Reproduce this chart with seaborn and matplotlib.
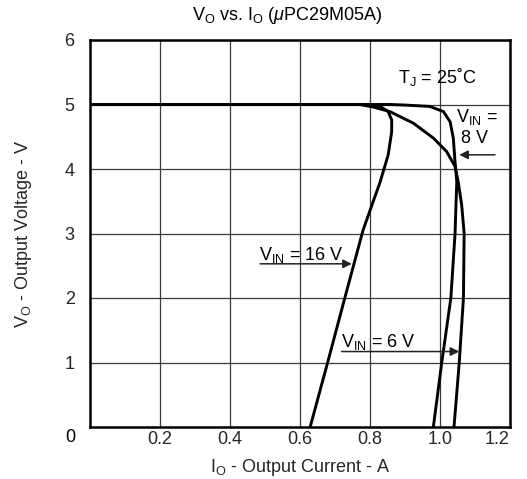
import matplotlib
matplotlib.use("Agg")
import matplotlib.pyplot as plt
import numpy as np
import pandas as pd
import seaborn as sns

# Vo vs Io curves (A, V)
vin_labels = ["16 V", "8 V", "6 V"]

io_16v = [0.0, 0.77, 0.80, 0.829, 0.852, 0.862, 0.862, 0.852, 0.829, 0.78, 0.728, 0.679, 0.629]
vo_16v = [5.0, 5.0, 4.995, 4.97, 4.89, 4.76, 4.58, 4.22, 3.80, 3.05, 2.0, 1.0, 0.0]

io_8v = [0.0, 0.86, 0.905, 0.971, 1.01, 1.029, 1.038, 1.043, 1.048, 1.046, 1.043, 1.031, 1.005, 0.981]
vo_8v = [5.0, 5.0, 4.99, 4.97, 4.89, 4.73, 4.48, 4.11, 3.80, 3.5, 3.0, 2.0, 1.0, 0.0]

io_6v = [0.0, 0.771, 0.81, 0.857, 0.924, 0.981, 1.019, 1.043, 1.052, 1.062, 1.069, 1.067, 1.055, 1.04]
vo_6v = [5.0, 5.0, 4.96, 4.89, 4.71, 4.48, 4.27, 4.04, 3.80, 3.44, 3.0, 2.0, 1.0, 0.0]

x_ticks = [0.2, 0.4, 0.6, 0.8, 1.0, 1.2]
x_ticklabels = ["0.2", "0.4", "0.6", "0.8", "1.0", "1.2"]
y_ticks = [1, 2, 3, 4, 5, 6]

FS = 13


def setup_style():
    sns.set_style("white")
    plt.rcParams.update({
        "font.family": ["Liberation Sans", "DejaVu Sans"],
        "mathtext.fontset": "custom",
        "mathtext.rm": "Liberation Sans",
        "mathtext.it": "Liberation Sans:italic",
        "mathtext.sf": "Liberation Sans",
        "font.size": FS,
        "text.color": "black",
    })


def build_frame():
    frames = []
    for name, io, vo in zip(vin_labels, [io_16v, io_8v, io_6v], [vo_16v, vo_8v, vo_6v]):
        frames.append(pd.DataFrame({"Io": io, "Vo": vo, "Vin": name, "order": range(len(io))}))
    return pd.concat(frames, ignore_index=True)


def arrow_label(ax, text, text_xy, start, tip):
    ax.text(*text_xy, text, ha="center", va="center", fontsize=FS)
    ax.annotate("", xy=tip, xytext=start,
                arrowprops=dict(arrowstyle="-|>", color="#222222", lw=1.1,
                                mutation_scale=13, shrinkA=0, shrinkB=0))


def main():
    setup_style()
    df = build_frame()

    fig = plt.figure(figsize=(5.27, 4.79), dpi=100)
    ax = fig.add_axes([90 / 527, 1 - 427 / 479, 420 / 527, 387 / 479])

    sns.lineplot(data=df, x="Io", y="Vo", hue="Vin", units="Vin", estimator=None,
                 sort=False, palette=["black"] * 3, linewidth=2.1, legend=False, ax=ax)

    ax.set_xlim(0, 1.2)
    ax.set_ylim(0, 6)
    ax.set_xticks(x_ticks)
    ax.set_xticklabels(x_ticklabels)
    ax.set_yticks(y_ticks)
    ax.tick_params(axis="both", length=0, labelsize=FS)
    ax.tick_params(axis="x", pad=3)
    ax.tick_params(axis="y", pad=11)
    ax.get_xticklabels()[-1].set_ha("right")
    ax.grid(True, color="#3a3a3a", linewidth=0.9)
    for sp in ax.spines.values():
        sp.set_visible(True)
        sp.set_color("black")
        sp.set_linewidth(1.8)

    ax.set_xlabel(r"I$_\mathrm{O}$ - Output Current - A", fontsize=FS, labelpad=6)
    ax.set_ylabel(r"V$_\mathrm{O}$ - Output Voltage - V", fontsize=FS, labelpad=22)
    fig.text(287 / 527, 1 - 15 / 479, r"V$_\mathrm{O}$ vs. I$_\mathrm{O}$ ($\mu$PC29M05A)",
             ha="center", va="center", fontsize=FS)

    # corner zero shared by both axes
    ax.text(70 / 527, 1 - 438 / 479, "0", transform=fig.transFigure,
            ha="center", va="center", fontsize=FS)

    ax.text(0.993, 5.43, r"T$_\mathrm{J}$ = 25˚C", ha="center", va="center", fontsize=FS)

    arrow_label(ax, r"V$_\mathrm{IN}$ = 16 V", (0.605, 2.67), (0.486, 2.53), (0.748, 2.53))
    arrow_label(ax, r"V$_\mathrm{IN}$ = 6 V", (0.824, 1.325), (0.719, 1.17), (1.055, 1.17))
    ax.text(1.105, 4.81, r"V$_\mathrm{IN}$ =", ha="center", va="center", fontsize=FS)
    arrow_label(ax, "8 V", (1.098, 4.48), (1.157, 4.22), (1.055, 4.22))

    fig.savefig("out.png", dpi=100)
    plt.close(fig)


if __name__ == "__main__":
    main()
